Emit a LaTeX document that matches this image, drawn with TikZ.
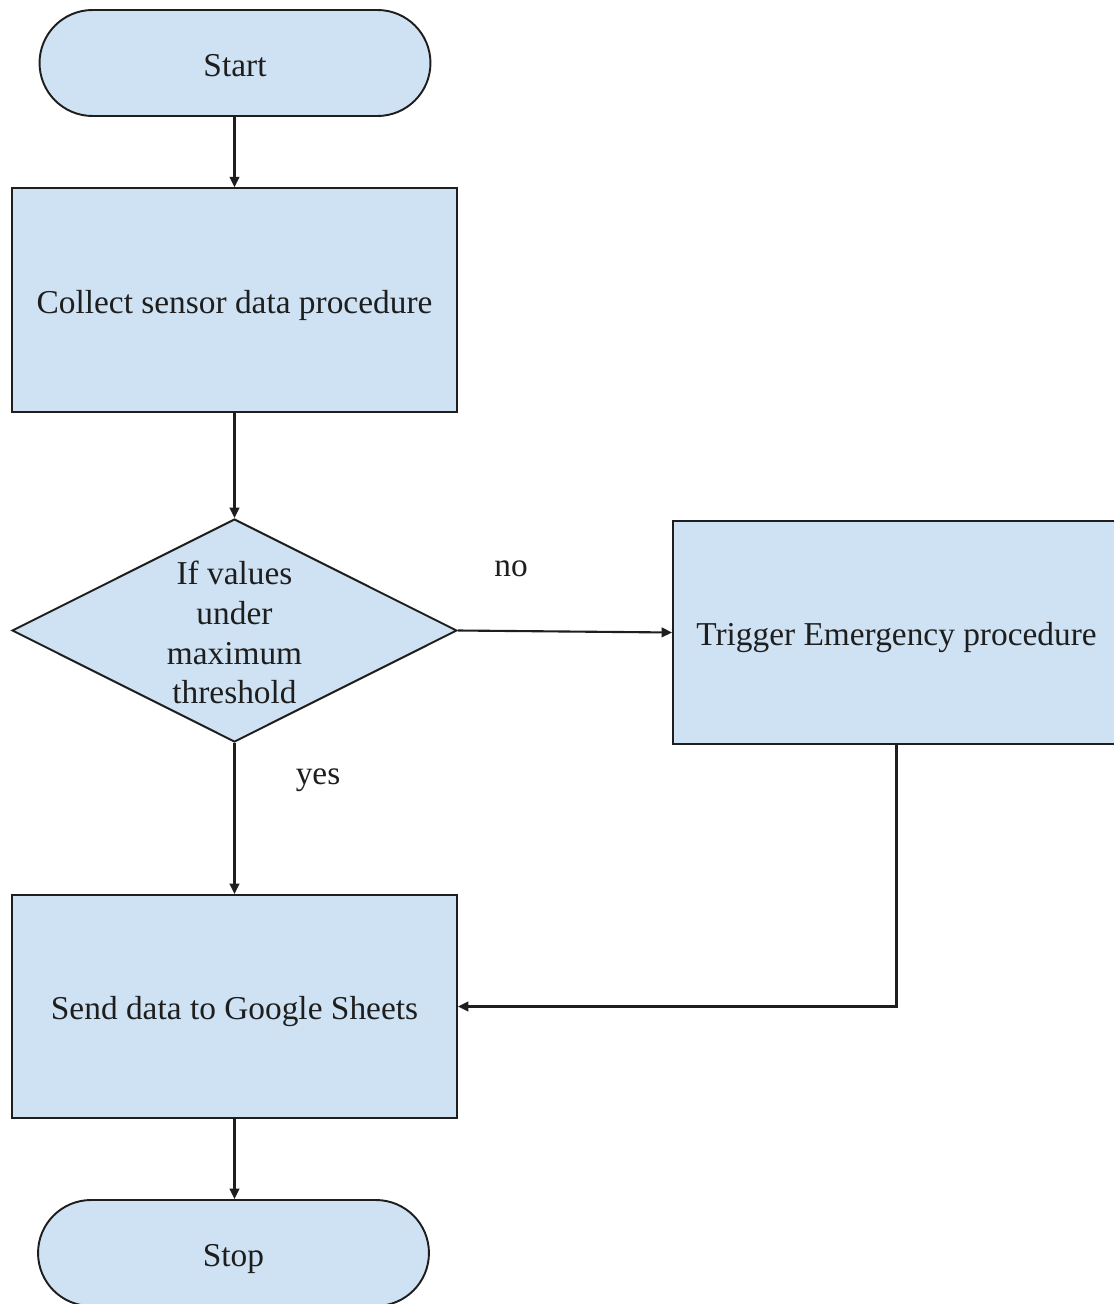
\documentclass[tikz,border=0pt]{standalone}
\usepackage{fontspec}
\setmainfont{Liberation Serif}
\usetikzlibrary{arrows.meta,shapes.geometric}
\definecolor{boxfill}{HTML}{CFE2F3}
\definecolor{ink}{HTML}{1E1E1E}
\begin{document}
\begin{tikzpicture}[x=0.02cm,y=-0.02cm,
 every node/.style={font=\fontsize{19}{22.7}\selectfont, text=ink},
 proc/.style={draw=ink, fill=boxfill, line width=1.1pt, inner sep=0pt, minimum width=8.9cm, minimum height=4.47cm, text height=17pt, text depth=1.8pt},
 term/.style={draw=ink, fill=boxfill, line width=1.1pt, rounded corners=1.06cm, inner sep=0pt, minimum width=7.82cm, minimum height=2.12cm, text height=17pt, text depth=1.8pt},
 decis/.style={draw=ink, fill=boxfill, line width=1.1pt, shape=diamond, inner sep=0pt, minimum width=8.9cm, minimum height=4.46cm},
 conn/.style={draw=ink, line width=1.2pt, -{Triangle[length=6pt,width=5.5pt]}},
 plain/.style={align=center}]
\useasboundingbox (0,0) rectangle (1114,1304);
\clip (0,0) rectangle (1114,1304);
\fill[white] (0,0) rectangle (1114,1304);
\node[term] (start) at (235,63) {Start};
\node[proc] (collect) at (234.5,300) {Collect sensor data procedure};
\node[decis] (dec) at (234.5,630.5) {};
\node[plain] (dectext) at ([yshift=-0.04cm]dec.center) {If values\\under\\maximum\\threshold};
\node[proc, minimum width=8.94cm, minimum height=4.46cm] (trig) at (896.5,632.5) {Trigger Emergency procedure};
\node[proc, minimum height=4.46cm] (send) at (234.5,1006.5) {Send data to Google Sheets};
\node[term] (stop) at (233.5,1253) {Stop};
\node (no) at (511,569) {no};
\node (yes) at (318,780) {yes};
\draw[conn] (collect.north |- start.south) -- (collect.north);
\draw[conn] (collect.south) -- (dec.north);
\draw[conn] (dec.east) -- (trig.west);
\draw[conn] (dec.south) -- (send.north);
\draw[conn] (trig.south) |- (send.east);
\draw[conn] (send.south) -- (send.south |- stop.north);
\end{tikzpicture}
\end{document}
